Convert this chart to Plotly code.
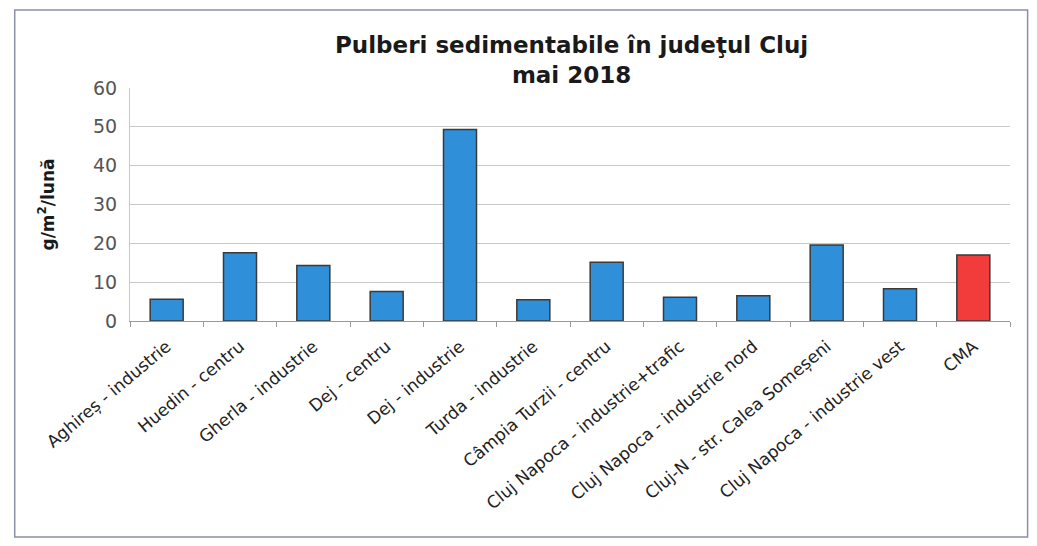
import plotly.graph_objects as go

# values (g/m2/luna), mai 2018
stations = [
    "Aghireș - industrie",
    "Huedin - centru",
    "Gherla - industrie",
    "Dej - centru",
    "Dej - industrie",
    "Turda - industrie",
    "Câmpia Turzii - centru",
    "Cluj Napoca - industrie+trafic",
    "Cluj Napoca - industrie nord",
    "Cluj-N - str. Calea Someșeni",
    "Cluj Napoca - industrie vest",
    "CMA",
]
values = [5.6, 17.6, 14.3, 7.6, 49.3, 5.5, 15.1, 6.1, 6.5, 19.6, 8.3, 17.0]
y_ticks = [0, 10, 20, 30, 40, 50, 60]

blue = "#2f8fd8"
red = "#f23b3b"
bar_colors = [red if s == "CMA" else blue for s in stations]

fig = go.Figure()
fig.add_trace(go.Bar(
    x=stations,
    y=values,
    marker=dict(color=bar_colors, line=dict(color="#3a3a3a", width=1.5)),
    width=0.45,
    showlegend=False,
    hoverinfo="x+y",
))

# page body has an 8px margin, so the figure is kept 16px smaller than the window
fig.update_layout(
    width=1021,
    height=530,
    margin=dict(l=122, r=19, t=80, b=217),
    paper_bgcolor="white",
    plot_bgcolor="white",
    font=dict(family="DejaVu Sans, Arial, sans-serif", color="#222222"),
    title=dict(
        text="<b>Pulberi sedimentabile în judeţul Cluj<br>mai 2018</b>",
        x=0.552, xanchor="center",
        y=0.915, yanchor="top",
        font=dict(size=23, color="#1a1a1a"),
    ),
    xaxis=dict(
        tickangle=-40,
        tickfont=dict(size=17, color="#222222"),
        ticks="outside",
        tickson="boundaries",
        ticklen=5,
        tickcolor="#9a9a9a",
        ticklabelstandoff=8,
        showline=True,
        linecolor="#9a9a9a",
        showgrid=False,
    ),
    yaxis=dict(
        range=[0, 60],
        tickvals=y_ticks,
        tickfont=dict(size=19, color="#555555"),
        ticklabelstandoff=8,
        showgrid=True,
        gridcolor="#c8c8c8",
        showline=True,
        linecolor="#c8c8c8",
        ticks="",
        title=dict(
            text="<b>g/m<sup>2</sup>/lună</b>",
            font=dict(size=17, color="#1a1a1a"),
            standoff=34,
        ),
    ),
    shapes=[dict(
        type="rect", xref="paper", yref="paper",
        x0=-0.131, x1=1.02, y0=-0.927, y1=1.335,
        line=dict(color="#8a8fa8", width=1.5),
        fillcolor="rgba(0,0,0,0)",
        layer="below",
    )],
)

fig.write_html("out.html")
